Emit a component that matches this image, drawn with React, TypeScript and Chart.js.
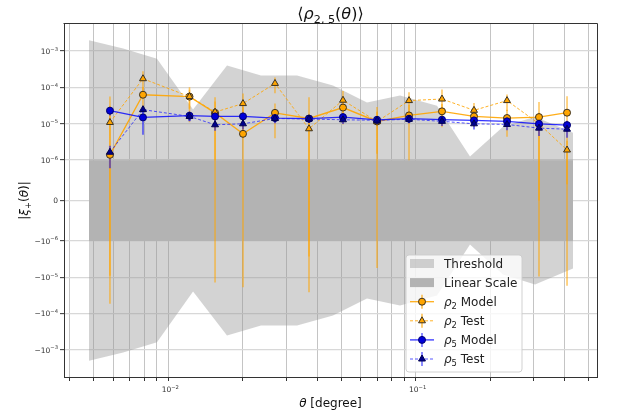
import { useEffect, useRef } from 'react';
import { Chart, registerables, LinearScale } from 'chart.js';

// ---------------- data ----------------
const THETA = [0.00581, 0.0079, 0.01218, 0.01545, 0.02004, 0.02699, 0.03704, 0.05082, 0.06977, 0.09395, 0.1277, 0.172, 0.2339, 0.315, 0.4089];

const RHO2_MODEL = [1.4e-6, 6.3e-5, 5.6e-5, 2.0e-5, 5.3e-6, 2.0e-5, 1.4e-5, 2.8e-5, 1.16e-5, 1.7e-5, 2.2e-5, 1.6e-5, 1.44e-5, 1.53e-5, 2.02e-5];
const RHO2_MODEL_ERR = [5.5e-5, 4.0e-5, 4.5e-5, 3.4e-5, 2.4e-5, 1.6e-5, 4.0e-5, 1.5e-5, 1.72e-5, 1.6e-5, 1.3e-5, 8e-6, 1.0e-5, 2.48e-5, 3.74e-5];

const RHO2_TEST = [1.09e-5, 1.74e-4, 5.6e-5, 2.1e-5, 3.6e-5, 1.29e-4, 7.3e-6, 4.45e-5, 1.15e-5, 4.35e-5, 4.8e-5, 2.35e-5, 4.35e-5, 1.0e-5, 1.9e-6];
const RHO2_TEST_ERR = [2.0e-5, 1.05e-4, 3.0e-5, 2.0e-5, 3.2e-5, 6.0e-5, 1.0e-5, 3.5e-5, 1.0e-5, 3.0e-5, 4.0e-5, 1.4e-5, 2.1e-5, 1.0e-5, 1.5e-6];

const RHO5_MODEL = [2.3e-5, 1.5e-5, 1.67e-5, 1.6e-5, 1.6e-5, 1.44e-5, 1.38e-5, 1.53e-5, 1.29e-5, 1.38e-5, 1.3e-5, 1.24e-5, 1.17e-5, 1.0e-5, 9.2e-6];
const RHO5_MODEL_ERR = [6e-6, 1.0e-5, 5e-6, 4e-6, 4e-6, 4e-6, 3e-6, 4e-6, 3e-6, 3e-6, 3e-6, 3e-6, 3e-6, 3e-6, 3e-6];

const RHO5_TEST = [1.65e-6, 2.45e-5, 1.6e-5, 9.4e-6, 1.0e-5, 1.4e-5, 1.35e-5, 1.29e-5, 1.25e-5, 1.33e-5, 1.17e-5, 1.0e-5, 9.6e-6, 7.6e-6, 7.1e-6];
const RHO5_TEST_ERR = [8.5e-7, 4e-6, 4e-6, 3e-6, 3e-6, 3e-6, 3e-6, 3e-6, 3e-6, 3e-6, 3e-6, 3e-6, 3e-6, 3e-6, 3e-6];

const THRESH_THETA = [0.004779, 0.006568, 0.009, 0.01259, 0.01727, 0.02369, 0.03313, 0.04631, 0.06354, 0.0864, 0.1219, 0.1657, 0.2253, 0.3035, 0.4323];
const THRESH_VALUE = [1.99e-3, 1.18e-3, 6.12e-4, 2.46e-5, 4.0e-4, 2.12e-4, 2.12e-4, 1.13e-4, 3.83e-5, 5.97e-5, 3.16e-5, 1.25e-6, 8.36e-6, 1.57e-5, 5.7e-6];

const LINEAR_THETA = [0.004779, 0.4323];
const LINTHRESH = 1e-6;

const X_MIN = 0.003788;
const X_MAX = 0.5404;
const Y_MIN = -5.55e-3;
const Y_MAX = 5.57e-3;

const X_TICKS = [0.004, 0.005, 0.006, 0.007, 0.008, 0.009, 0.01, 0.02, 0.03, 0.04, 0.05, 0.06, 0.07, 0.08, 0.09, 0.1, 0.2, 0.3, 0.4, 0.5];
// [prefix, base, exponent] for each tick label ('' = no label)
const X_TICK_LABELS: string[][] = X_TICKS.map((v) => (v === 0.01 ? ['', '10', '−2'] : v === 0.1 ? ['', '10', '−1'] : ['', '', '']));
const Y_TICKS = [-1e-3, -1e-4, -1e-5, -1e-6, 0, 1e-6, 1e-5, 1e-4, 1e-3];
const Y_TICK_LABELS: string[][] = [
  ['−', '10', '−3'], ['−', '10', '−4'], ['−', '10', '−5'], ['−', '10', '−6'], ['', '0', ''],
  ['', '10', '−6'], ['', '10', '−5'], ['', '10', '−4'], ['', '10', '−3'],
];

// ---------------- styles ----------------
const FONT = "'DejaVu Sans'";
const ORANGE = '#FFA500';
const ORANGE_LINE = 'rgba(255,165,0,0.9)';
const ORANGE_DASH = 'rgba(255,165,0,0.85)';
const ORANGE_ERR = 'rgba(255,165,0,0.6)';
const ORANGE_EDGE = '#3a3020';
const BLUE_LINE = 'rgba(0,0,255,0.8)';
const BLUE_DASH = 'rgba(30,30,255,0.75)';
const BLUE_ERR = 'rgba(0,0,255,0.5)';
const BLUE_MODEL_FILL = '#0000d8';
const BLUE_MODEL_EDGE = '#000070';
const BLUE_TEST_FILL = '#00008b';
const BLUE_TEST_EDGE = '#000050';
const THRESH_COLOR = 'rgba(150,150,150,0.42)';
const LINEAR_COLOR = '#b3b3b3';
const CIRCLE_R = 3.5;
const TRIANGLE_R = 4;
const TICK_SIZE = 7.5;

// ---------------- symlog scale ----------------
const LINSCALE = 1 / (1 - 1 / 10);
function symT(v: number) {
  const a = Math.abs(v);
  const t = a <= LINTHRESH ? (a / LINTHRESH) * LINSCALE : LINSCALE + Math.log10(a / LINTHRESH);
  return v < 0 ? -t : t;
}
function symInv(t: number) {
  const a = Math.abs(t);
  const v = a <= LINSCALE ? (a / LINSCALE) * LINTHRESH : LINTHRESH * Math.pow(10, a - LINSCALE);
  return t < 0 ? -v : v;
}

class SymLogScale extends LinearScale {
  static id = 'symlog';
  static defaults = {};
  buildTicks() {
    (this as any).start = this.min;
    (this as any).end = this.max;
    return Y_TICKS.map((v) => ({ value: v }));
  }
  getPixelForValue(v: any) {
    if (v === null || v === undefined || isNaN(v)) return NaN;
    const a = symT(this.min);
    const b = symT(this.max);
    return this.getPixelForDecimal((symT(v) - a) / (b - a));
  }
  getValueForPixel(p: number) {
    const a = symT(this.min);
    const b = symT(this.max);
    return symInv(a + this.getDecimalForPixel(p) * (b - a));
  }
}

Chart.register(...registerables, SymLogScale as any);

// ---------------- helpers ----------------
function points(xs: number[], ys: number[]) {
  return xs.map((x, i) => ({ x, y: ys[i] }));
}
function errorBars(xs: number[], ys: number[], es: number[]) {
  const out: any[] = [];
  xs.forEach((x, i) => {
    out.push({ x, y: ys[i] - es[i] }, { x, y: ys[i] + es[i] }, { x, y: null });
  });
  return out;
}

type Seg = { t: string; it?: boolean; sub?: boolean; sup?: boolean };
function segFont(s: Seg, size: number) {
  const sz = s.sub || s.sup ? size * 0.7 : size;
  return `${s.it ? 'italic ' : ''}${sz}px ${FONT}`;
}
function drawRich(ctx: CanvasRenderingContext2D, segs: Seg[], x: number, y: number, size: number, align: 'left' | 'center' | 'right') {
  ctx.textAlign = 'left';
  ctx.textBaseline = 'alphabetic';
  let w = 0;
  for (const s of segs) {
    ctx.font = segFont(s, size);
    w += ctx.measureText(s.t).width;
  }
  let cx = align === 'center' ? x - w / 2 : align === 'right' ? x - w : x;
  for (const s of segs) {
    ctx.font = segFont(s, size);
    const dy = s.sub ? size * 0.22 : s.sup ? -size * 0.45 : 0;
    ctx.fillText(s.t, cx, y + dy);
    cx += ctx.measureText(s.t).width;
  }
}
function tickSegs(lbl: string[]): Seg[] {
  const segs: Seg[] = [];
  if (lbl[0]) segs.push({ t: lbl[0] });
  if (lbl[1]) segs.push({ t: lbl[1] });
  if (lbl[2]) segs.push({ t: lbl[2], sup: true });
  return segs;
}

function drawMarker(ctx: CanvasRenderingContext2D, kind: string, x: number, y: number, r: number, fill: string, edge: string) {
  ctx.beginPath();
  if (kind === 'circle') {
    ctx.arc(x, y, r, 0, Math.PI * 2);
  } else {
    for (let k = 0; k < 3; k++) {
      const ang = (k * 2 * Math.PI) / 3;
      const px = x + Math.sin(ang) * r;
      const py = y - Math.cos(ang) * r;
      if (k === 0) ctx.moveTo(px, py);
      else ctx.lineTo(px, py);
    }
    ctx.closePath();
  }
  ctx.fillStyle = fill;
  ctx.fill();
  ctx.lineWidth = 1;
  ctx.strokeStyle = edge;
  ctx.stroke();
}

const LEGEND_SERIES = [
  { name: '2', kind: 'Model', line: ORANGE_LINE, dash: [] as number[], err: ORANGE_ERR, marker: 'circle', fill: ORANGE, edge: ORANGE_EDGE, r: CIRCLE_R },
  { name: '2', kind: 'Test', line: ORANGE_DASH, dash: [3, 2], err: ORANGE_ERR, marker: 'triangle', fill: ORANGE, edge: ORANGE_EDGE, r: TRIANGLE_R },
  { name: '5', kind: 'Model', line: BLUE_LINE, dash: [] as number[], err: BLUE_ERR, marker: 'circle', fill: BLUE_MODEL_FILL, edge: BLUE_MODEL_EDGE, r: CIRCLE_R },
  { name: '5', kind: 'Test', line: BLUE_DASH, dash: [3, 2], err: BLUE_ERR, marker: 'triangle', fill: BLUE_TEST_FILL, edge: BLUE_TEST_EDGE, r: TRIANGLE_R },
];

const decorPlugin = {
  id: 'decor',
  afterDatasetsDraw(chart: any) {
    const { ctx, chartArea: a } = chart;
    ctx.save();
    ctx.strokeStyle = '#333';
    ctx.lineWidth = 1;
    ctx.beginPath();
    ctx.moveTo(Math.round(a.left) - 0.5, Math.round(a.top) - 0.5);
    ctx.lineTo(Math.round(a.right) + 0.5, Math.round(a.top) - 0.5);
    ctx.lineTo(Math.round(a.right) + 0.5, Math.round(a.bottom) + 0.5);
    ctx.stroke();
    ctx.restore();
  },
  afterDraw(chart: any) {
    const { ctx, chartArea: a } = chart;
    ctx.save();
    // tick labels (math-style superscripts), positioned through the chart's scales
    ctx.fillStyle = '#333';
    const xs = chart.scales.x;
    const ys = chart.scales.y;
    xs.ticks.forEach((t: any, i: number) => {
      const segs = tickSegs(X_TICK_LABELS[i] || ['', '', '']);
      if (!segs.length) return;
      drawRich(ctx, segs, xs.getPixelForValue(t.value) + 2, a.bottom + 15, TICK_SIZE, 'center');
    });
    ys.ticks.forEach((t: any, i: number) => {
      const segs = tickSegs(Y_TICK_LABELS[i] || ['', '', '']);
      if (!segs.length) return;
      drawRich(ctx, segs, a.left - 6, ys.getPixelForValue(t.value) + 2.8, TICK_SIZE, 'right');
    });

    ctx.fillStyle = '#111';
    const cx = (a.left + a.right) / 2;
    // title
    drawRich(ctx, [{ t: '⟨' }, { t: 'ρ', it: true }, { t: '2, 5', sub: true }, { t: '(' }, { t: 'θ', it: true }, { t: ')⟩' }], cx, 19, 16, 'center');
    // x label
    drawRich(ctx, [{ t: 'θ', it: true }, { t: ' [degree]' }], cx, 407, 12, 'center');
    // y label
    ctx.save();
    ctx.translate(28, (a.top + a.bottom) / 2);
    ctx.rotate(-Math.PI / 2);
    drawRich(ctx, [{ t: '|' }, { t: 'ξ', it: true }, { t: '+', sub: true }, { t: '(' }, { t: 'θ', it: true }, { t: ')|' }], 0, 0, 12, 'center');
    ctx.restore();

    // legend
    const bx = a.right - 191;
    const by = a.bottom - 122;
    const bw = 116;
    const bh = 117;
    ctx.beginPath();
    const rr = 3;
    ctx.moveTo(bx + rr, by);
    ctx.arcTo(bx + bw, by, bx + bw, by + bh, rr);
    ctx.arcTo(bx + bw, by + bh, bx, by + bh, rr);
    ctx.arcTo(bx, by + bh, bx, by, rr);
    ctx.arcTo(bx, by, bx + bw, by, rr);
    ctx.closePath();
    ctx.fillStyle = 'rgba(255,255,255,0.8)';
    ctx.fill();
    ctx.strokeStyle = 'rgba(204,204,204,0.9)';
    ctx.lineWidth = 1;
    ctx.stroke();

    const hx0 = bx + 4;
    const hx1 = bx + 28;
    const hxm = (hx0 + hx1) / 2;
    const tx = bx + 38;
    const rowY = (i: number) => by + 8.5 + i * 19.1;
    ctx.fillStyle = THRESH_COLOR;
    ctx.fillRect(hx0, rowY(0) - 4.5, hx1 - hx0, 9);
    ctx.fillStyle = LINEAR_COLOR;
    ctx.fillRect(hx0, rowY(1) - 4.5, hx1 - hx0, 9);
    ctx.fillStyle = '#222';
    drawRich(ctx, [{ t: 'Threshold' }], tx, rowY(0) + 4.4, 12, 'left');
    drawRich(ctx, [{ t: 'Linear Scale' }], tx, rowY(1) + 4.4, 12, 'left');
    LEGEND_SERIES.forEach((s, k) => {
      const y = rowY(k + 2);
      ctx.save();
      ctx.strokeStyle = s.err;
      ctx.lineWidth = 1.8;
      ctx.beginPath();
      ctx.moveTo(hxm, y - 7);
      ctx.lineTo(hxm, y + 7);
      ctx.stroke();
      ctx.strokeStyle = s.line;
      ctx.lineWidth = s.dash.length ? 1 : 1.3;
      ctx.setLineDash(s.dash);
      ctx.beginPath();
      ctx.moveTo(hx0, y);
      ctx.lineTo(hx1, y);
      ctx.stroke();
      ctx.setLineDash([]);
      drawMarker(ctx, s.marker, hxm, y, s.r, s.fill, s.edge);
      ctx.restore();
      ctx.fillStyle = '#222';
      drawRich(ctx, [{ t: 'ρ', it: true }, { t: s.name, sub: true }, { t: ' ' + s.kind }], tx, y + 4.4, 12, 'left');
    });
    ctx.restore();
  },
};

export default function App() {
  const ref = useRef<HTMLCanvasElement>(null);
  useEffect(() => {
    if (!ref.current) return;
    const hidden = { borderWidth: 0, borderColor: 'transparent', pointRadius: 0 };
    const chart = new Chart(ref.current, {
      type: 'line',
      data: {
        datasets: [
          { label: 'Threshold', data: points(THRESH_THETA, THRESH_VALUE), fill: '+1', backgroundColor: THRESH_COLOR, order: 100, ...hidden },
          { label: 'Threshold lower', data: points(THRESH_THETA, THRESH_VALUE.map((v) => -v)), fill: false, order: 100, ...hidden },
          { label: 'Linear Scale', data: LINEAR_THETA.map((x) => ({ x, y: LINTHRESH })), fill: '+1', backgroundColor: LINEAR_COLOR, order: 90, ...hidden },
          { label: 'Linear lower', data: LINEAR_THETA.map((x) => ({ x, y: -LINTHRESH })), fill: false, order: 90, ...hidden },
          { label: 'rho2 model err', data: errorBars(THETA, RHO2_MODEL, RHO2_MODEL_ERR), borderColor: ORANGE_ERR, borderWidth: 1.6, pointRadius: 0, fill: false, order: 60 },
          { label: 'rho2 test err', data: errorBars(THETA, RHO2_TEST, RHO2_TEST_ERR), borderColor: ORANGE_ERR, borderWidth: 1.6, pointRadius: 0, fill: false, order: 59 },
          { label: 'rho5 model err', data: errorBars(THETA, RHO5_MODEL, RHO5_MODEL_ERR), borderColor: BLUE_ERR, borderWidth: 2, pointRadius: 0, fill: false, order: 58 },
          { label: 'rho5 test err', data: errorBars(THETA, RHO5_TEST, RHO5_TEST_ERR), borderColor: BLUE_ERR, borderWidth: 2, pointRadius: 0, fill: false, order: 57 },
          {
            label: 'ρ2 Model', data: points(THETA, RHO2_MODEL), borderColor: ORANGE_LINE, borderWidth: 1.3, fill: false,
            pointStyle: 'circle', pointRadius: CIRCLE_R, pointBackgroundColor: ORANGE, pointBorderColor: ORANGE_EDGE, pointBorderWidth: 1, order: 4,
          },
          {
            label: 'ρ2 Test', data: points(THETA, RHO2_TEST), borderColor: ORANGE_DASH, borderWidth: 1, borderDash: [3, 2], fill: false,
            pointStyle: 'triangle', pointRadius: TRIANGLE_R, pointBackgroundColor: ORANGE, pointBorderColor: ORANGE_EDGE, pointBorderWidth: 1, order: 3,
          },
          {
            label: 'ρ5 Model', data: points(THETA, RHO5_MODEL), borderColor: BLUE_LINE, borderWidth: 1.3, fill: false,
            pointStyle: 'circle', pointRadius: CIRCLE_R, pointBackgroundColor: BLUE_MODEL_FILL, pointBorderColor: BLUE_MODEL_EDGE, pointBorderWidth: 1, order: 2,
          },
          {
            label: 'ρ5 Test', data: points(THETA, RHO5_TEST), borderColor: BLUE_DASH, borderWidth: 1, borderDash: [3, 2], fill: false,
            pointStyle: 'triangle', pointRadius: TRIANGLE_R, pointBackgroundColor: BLUE_TEST_FILL, pointBorderColor: BLUE_TEST_EDGE, pointBorderWidth: 1, order: 1,
          },
        ] as any,
      },
      options: {
        responsive: false,
        animation: false,
        devicePixelRatio: 1,
        events: [],
        layout: { padding: { left: 0, right: 20, top: 24, bottom: 0 } },
        plugins: { legend: { display: false }, title: { display: false }, tooltip: { enabled: false } },
        scales: {
          x: {
            type: 'logarithmic',
            min: X_MIN,
            max: X_MAX,
            afterBuildTicks: (axis: any) => {
              axis.ticks = X_TICKS.map((v) => ({ value: v }));
            },
            afterFit: (axis: any) => {
              axis.height = 40;
            },
            ticks: { display: false, autoSkip: false, maxRotation: 0, minRotation: 0 },
            grid: { color: '#c4c4c4', lineWidth: 1, tickLength: 4, tickColor: '#333', tickWidth: 1 },
            border: { display: true, color: '#333', width: 1 },
          },
          y: {
            type: 'symlog' as any,
            min: Y_MIN,
            max: Y_MAX,
            afterFit: (axis: any) => {
              axis.width = 64;
            },
            ticks: { display: false, autoSkip: false },
            grid: { color: '#d8d8d8', lineWidth: 1.3, tickLength: 4, tickColor: '#333', tickWidth: 1 },
            border: { display: true, color: '#333', width: 1 },
          },
        },
      } as any,
      plugins: [decorPlugin],
    });
    return () => chart.destroy();
  }, []);
  return (
    <div style={{ position: 'absolute', left: 0, top: 0, width: 617, height: 417, background: '#fff' }}>
      <canvas ref={ref} width={617} height={417} style={{ display: 'block', width: 617, height: 417 }} />
    </div>
  );
}
